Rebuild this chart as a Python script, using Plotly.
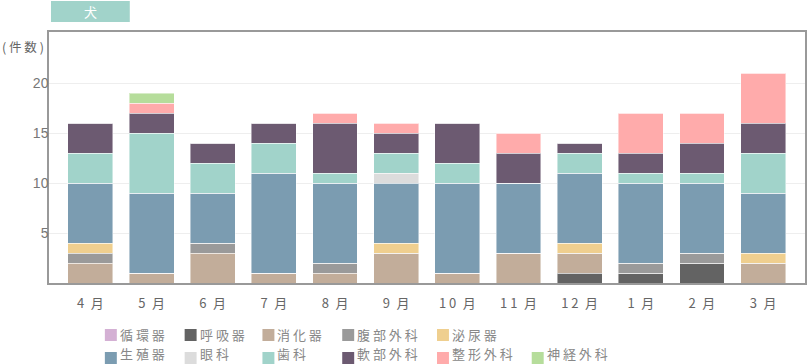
import plotly.graph_objects as go

months = ["4\u2002月", "5\u2002月", "6\u2002月", "7\u2002月", "8\u2002月", "9\u2002月",
          "1 0\u2002月", "1 1\u2002月", "1 2\u2002月", "1\u2002月", "2\u2002月", "3\u2002月"]

series_names = ["循 環 器", "呼 吸 器", "消 化 器", "腹 部 外 科", "泌 尿 器",
                "生 殖 器", "眼 科", "歯 科", "軟 部 外 科", "整 形 外 科", "神 経 外 科"]
series_colors = ["#d4b0d4", "#636363", "#c2ad9a", "#9a9a9a", "#efcf8f",
                 "#7b9cb1", "#dcdcdc", "#a1d3ca", "#6c5a71", "#ffabab", "#b6dd9b"]

junkanki  = [0, 0, 0, 0, 0, 0, 0, 0, 0, 0, 0, 0]
kokyuki   = [0, 0, 0, 0, 0, 0, 0, 0, 1, 1, 2, 0]
shokaki   = [2, 1, 3, 1, 1, 3, 1, 3, 2, 0, 0, 2]
fukubu    = [1, 0, 1, 0, 1, 0, 0, 0, 0, 1, 1, 0]
hinyoki   = [1, 0, 0, 0, 0, 1, 0, 0, 1, 0, 0, 1]
seishoku  = [6, 8, 5, 10, 8, 6, 9, 7, 7, 8, 7, 6]
ganka     = [0, 0, 0, 0, 0, 1, 0, 0, 0, 0, 0, 0]
shika     = [3, 6, 3, 3, 1, 2, 2, 0, 2, 1, 1, 4]
nanbu     = [3, 2, 2, 2, 5, 2, 4, 3, 1, 2, 3, 3]
seikei    = [0, 1, 0, 0, 1, 1, 0, 2, 0, 4, 3, 5]
shinkei   = [0, 1, 0, 0, 0, 0, 0, 0, 0, 0, 0, 0]

series_values = [junkanki, kokyuki, shokaki, fukubu, hinyoki, seishoku,
                 ganka, shika, nanbu, seikei, shinkei]

y_ticks = [5, 10, 15, 20]

W, H = 808, 364
L, R, T, B = 49, 1, 32, 81
PW, PH = W - L - R, H - T - B

def px(x):
    return (x - L) / PW

def py(y):
    return (H - B - y) / PH

FONT = "Noto Sans CJK JP"

fig = go.Figure()
for name, color, vals in zip(series_names, series_colors, series_values):
    fig.add_trace(go.Bar(
        x=months, y=vals, name=name, width=0.734,
        marker=dict(color=color, line=dict(color="rgba(255,255,255,0.45)", width=1)),
        showlegend=False,
    ))

shapes = []
annotations = []

# title tag
shapes.append(dict(type="rect", xref="paper", yref="paper",
                   x0=px(51), x1=px(130), y0=py(22), y1=py(1),
                   fillcolor="#a1d3ca", line=dict(width=0)))
annotations.append(dict(text="犬", xref="paper", yref="paper", x=px(90.5), y=py(11.5),
                        showarrow=False, xanchor="center", yanchor="middle",
                        font=dict(family=FONT, size=13, color="white")))
annotations.append(dict(text="( 件 数 )", xref="paper", yref="paper", x=px(1), y=py(47),
                        showarrow=False, xanchor="left", yanchor="middle", borderpad=0,
                        font=dict(family=FONT, size=12.5, color="#666666")))

# manual legend: first row 5 items, second row 6 items
col_x = [105, 185, 263, 343, 438, 533]
row_sq = [(329, 341), (352, 364)]
for i, (name, color) in enumerate(zip(series_names, series_colors)):
    if i < 5:
        r, c = 0, i
    else:
        r, c = 1, i - 5
    x0 = col_x[c]
    y_top, y_bot = row_sq[r]
    shapes.append(dict(type="rect", xref="paper", yref="paper",
                       x0=px(x0), x1=px(x0 + 12), y0=py(y_bot), y1=py(y_top),
                       fillcolor=color, line=dict(width=0)))
    if r == 0:
        ann_y, ya = py(334.5), "middle"
    else:
        ann_y, ya = py(H), "bottom"
    annotations.append(dict(text=name, xref="paper", yref="paper", x=px(x0 + 14), y=ann_y,
                            showarrow=False, xanchor="left", yanchor=ya, borderpad=0,
                            font=dict(family=FONT, size=13, color="#888888")))

fig.update_layout(
    barmode="stack",
    width=W, height=H,
    margin=dict(l=L, r=R, t=T, b=B),
    paper_bgcolor="white", plot_bgcolor="white",
    shapes=shapes,
    annotations=annotations,
    xaxis=dict(range=[-0.677, 11.685], showgrid=False, showline=True, linecolor="#999999",
               linewidth=1.5, mirror=True, ticks="", ticklabelstandoff=8,
               tickfont=dict(family=FONT, size=13, color="#666666")),
    yaxis=dict(range=[0, 25.1], tickvals=y_ticks, showgrid=True, gridcolor="#eeeeee",
               gridwidth=1, showline=True, linecolor="#999999", linewidth=1.5, mirror=True,
               ticks="", zeroline=False, ticklabelstandoff=-4,
               tickfont=dict(family="Liberation Sans", size=14, color="#777777")),
)

fig.write_html(
    "out.html",
    config={"displayModeBar": False},
    post_script="document.body.style.margin='0';document.body.style.overflow='hidden';",
)
